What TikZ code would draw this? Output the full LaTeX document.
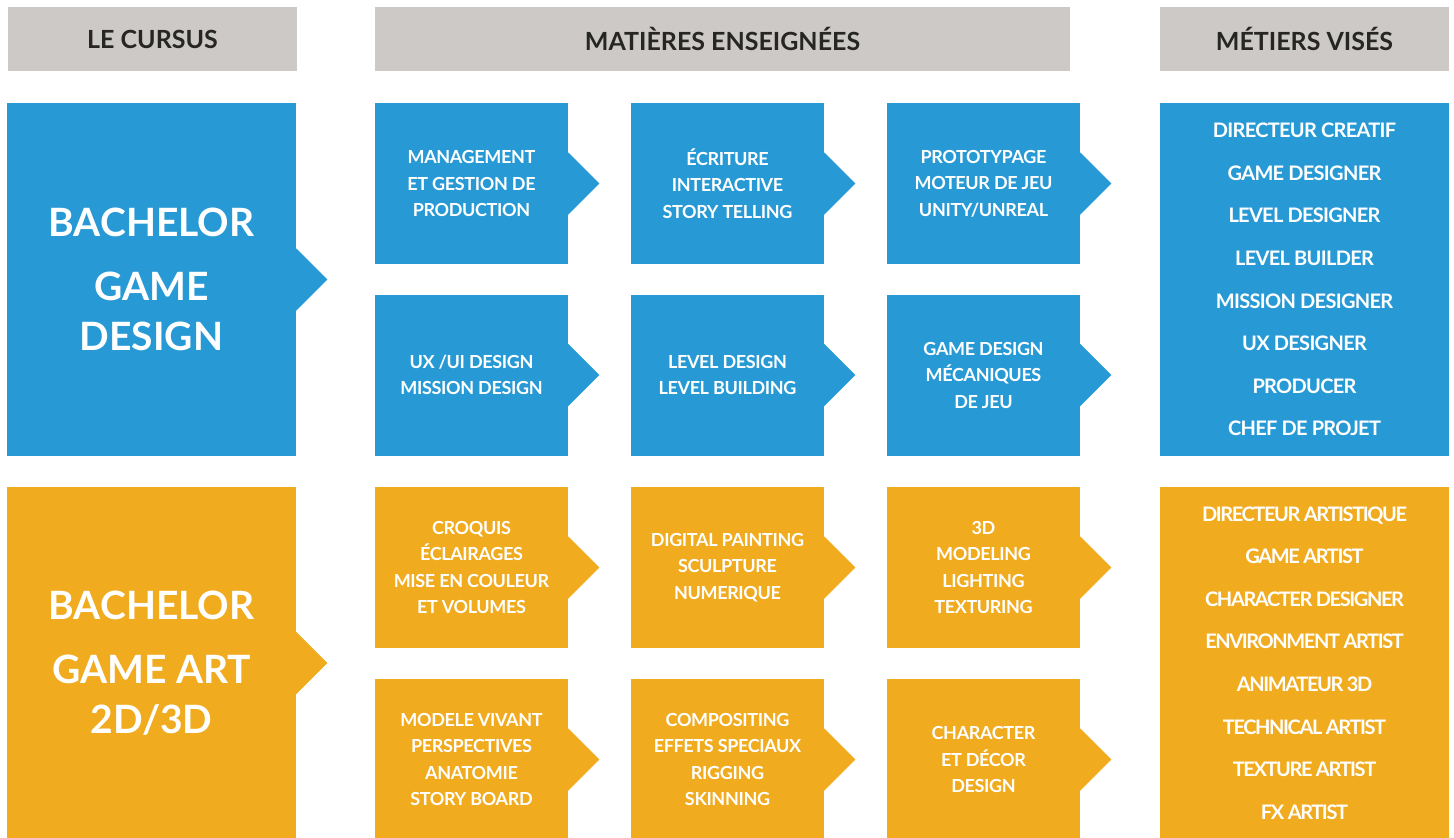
\documentclass[tikz,border=0pt]{standalone}
\usepackage{fontspec}
\setmainfont{Lato}
\definecolor{bleu}{RGB}{39,154,214}
\definecolor{ocre}{RGB}{240,171,30}
\definecolor{gris}{RGB}{205,201,198}
\definecolor{encre}{RGB}{38,38,36}

\begin{document}
\begin{tikzpicture}[x=0.5pt, y=-0.5pt,
  entete/.style={fill=gris, text=encre, inner sep=0pt, minimum height=32pt,
    font=\bfseries\fontsize{12.5}{14}\selectfont},
  cursus/.style={inner sep=0pt, text=white, align=center, minimum width=144.5pt,
    font=\bfseries\fontsize{19.5}{25}\selectfont},
  matiere/.style={inner sep=0pt, text=white, align=center, minimum width=96.5pt,
    minimum height=80.5pt, font=\bfseries\fontsize{9}{13.25}\selectfont\addfontfeature{LetterSpace=-2}},
  metier/.style={inner sep=0pt, text=white, align=center, minimum width=144.5pt,
    font=\bfseries\fontsize{10}{21.3}\selectfont}]
  \useasboundingbox (0,0) rectangle (1454,837);

  % en-tetes
  \node[entete, minimum width=144.5pt] (hc) at (152.5,39) {LE CURSUS};
  \node[entete, minimum width=347.5pt] (hm) at (722.5,39) {MATIÈRES ENSEIGNÉES};
  \node[entete, minimum width=144.5pt] (hv) at (1304.5,39) {MÉTIERS VISÉS};

  % bachelor game design
  \node[cursus, fill=bleu, minimum height=176.5pt] (gd) at (151.5,279.5)
    {BACHELOR\\[7pt]GAME\\DESIGN};
  \node[matiere, fill=bleu] (gd1) at (471.5,183.5) {MANAGEMENT\\ET GESTION DE\\PRODUCTION};
  \node[matiere, fill=bleu] (gd2) at (727.5,183.5) {ÉCRITURE\\INTERACTIVE\\STORY TELLING};
  \node[matiere, fill=bleu] (gd3) at (983.5,183.5) {PROTOTYPAGE\\MOTEUR DE JEU\\UNITY/UNREAL};
  \node[matiere, fill=bleu] (gd4) at (471.5,375) {UX /UI DESIGN\\MISSION DESIGN};
  \node[matiere, fill=bleu] (gd5) at (727.5,375) {LEVEL DESIGN\\LEVEL BUILDING};
  \node[matiere, fill=bleu] (gd6) at (983.5,375) {GAME DESIGN\\MÉCANIQUES\\DE JEU};
  \node[metier, fill=bleu, minimum height=176.5pt,
    font=\bfseries\fontsize{10}{21.3}\selectfont\addfontfeature{LetterSpace=-3.5}] (mgd) at (1304.5,279.5)
    {DIRECTEUR CREATIF\\GAME DESIGNER\\LEVEL DESIGNER\\LEVEL BUILDER\\MISSION DESIGNER\\UX DESIGNER\\PRODUCER\\CHEF DE PROJET};

  % bachelor game art
  \node[cursus, fill=ocre, minimum height=176pt] (ga) at (151.5,663)
    {BACHELOR\\[7pt]GAME ART\\2D/3D};
  \node[matiere, fill=ocre] (ga1) at (471.5,567.5) {CROQUIS\\ÉCLAIRAGES\\MISE EN COULEUR\\ET VOLUMES};
  \node[matiere, fill=ocre] (ga2) at (727.5,567.5) {DIGITAL PAINTING\\SCULPTURE\\NUMERIQUE};
  \node[matiere, fill=ocre] (ga3) at (983.5,567.5) {3D\\MODELING\\LIGHTING\\TEXTURING};
  \node[matiere, fill=ocre] (ga4) at (471.5,759.5) {MODELE VIVANT\\PERSPECTIVES\\ANATOMIE\\STORY BOARD};
  \node[matiere, fill=ocre] (ga5) at (727.5,759.5) {COMPOSITING\\EFFETS SPECIAUX\\RIGGING\\SKINNING};
  \node[matiere, fill=ocre] (ga6) at (983.5,759.5) {CHARACTER\\ET DÉCOR\\DESIGN};
  \node[metier, fill=ocre, minimum height=176pt,
    font=\bfseries\fontsize{10}{21.3}\selectfont\addfontfeature{LetterSpace=-7}] (mga) at (1304.5,663)
    {DIRECTEUR ARTISTIQUE\\GAME ARTIST\\CHARACTER DESIGNER\\ENVIRONMENT ARTIST\\ANIMATEUR 3D\\TECHNICAL ARTIST\\TEXTURE ARTIST\\FX ARTIST};

  % pointes
  \foreach \n/\c in {gd/bleu, gd1/bleu, gd2/bleu, gd3/bleu, gd4/bleu, gd5/bleu, gd6/bleu,
                     ga/ocre, ga1/ocre, ga2/ocre, ga3/ocre, ga4/ocre, ga5/ocre, ga6/ocre}
    \fill[\c] (\n.east) ++(-2,-31) -- ++(2,0) -- ++(31,31) -- ++(-31,31) -- ++(-2,0) -- cycle;
\end{tikzpicture}
\end{document}
